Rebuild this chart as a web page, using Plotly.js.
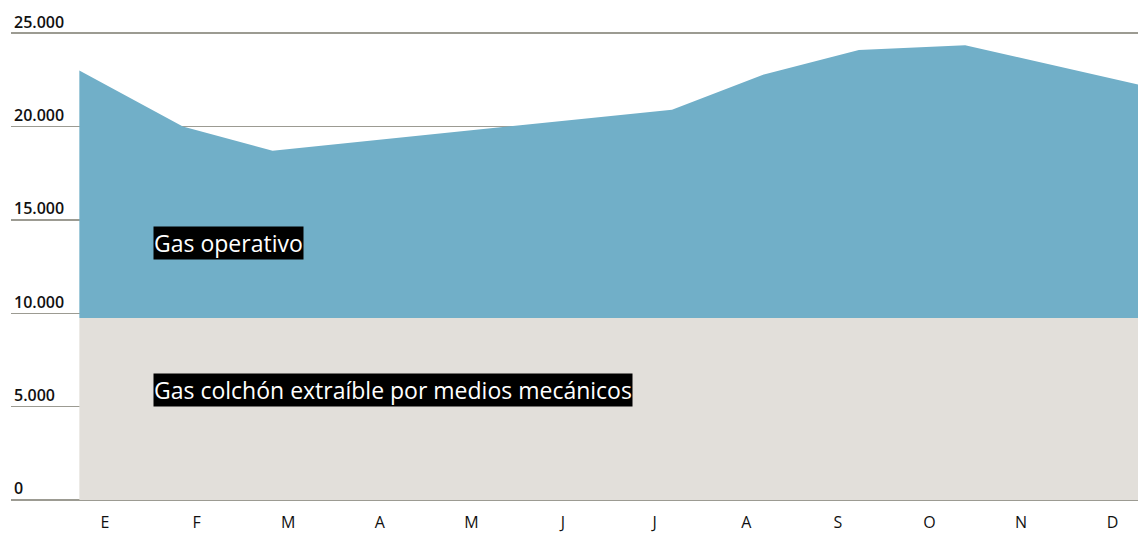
<!DOCTYPE html>
<html>
<head>
<meta charset="utf-8">
<script src="https://cdn.plot.ly/plotly-3.0.1.min.js"></script>
<style>
  html, body { margin: 0; padding: 0; background: #ffffff; }
  #chart { width: 1138px; height: 533px; }
</style>
</head>
<body>
<div id="chart"></div>
<script>
// Month tick labels (index positions 0..11)
const monthLabels = ['E', 'F', 'M', 'A', 'M', 'J', 'J', 'A', 'S', 'O', 'N', 'D'];
const monthTicks = [0, 1, 2, 3, 4, 5, 6, 7, 8, 9, 10, 11];

// Y-axis tick values
const yTicks = [0, 5000, 10000, 15000, 20000, 25000];

// Vertex positions along the year (in month-label units)
const xPoints = [-0.28, 0.85, 1.83, 6.19, 7.17, 8.23, 9.39, 11.28];

// Gas colchón extraíble por medios mecánicos (constant base)
const gasColchon = [9750, 9750, 9750, 9750, 9750, 9750, 9750, 9750];

// Gas operativo (stacked on top of the colchón)
const gasOperativo = [13250, 10250, 8950, 11150, 13000, 14350, 14600, 12500];

const traces = [
  {
    x: xPoints, y: gasColchon, type: 'scatter', mode: 'none',
    stackgroup: 'g', fillcolor: '#e2dfda', line: { width: 0 },
    hoverinfo: 'skip', name: 'Gas colchón extraíble por medios mecánicos'
  },
  {
    x: xPoints, y: gasOperativo, type: 'scatter', mode: 'none',
    stackgroup: 'g', fillcolor: '#71afc8', line: { width: 0 },
    hoverinfo: 'skip', name: 'Gas operativo'
  }
];

const labelFont = { family: 'Open Sans, sans-serif', size: 23, color: '#ffffff' };

const layout = {
  width: 1138, height: 533,
  margin: { l: 11, r: 0, t: 32, b: 33, pad: 0 },
  paper_bgcolor: '#ffffff', plot_bgcolor: '#ffffff',
  separators: ',.',
  showlegend: false,
  xaxis: {
    range: [-1.026, 11.277],
    tickvals: monthTicks, ticktext: monthLabels,
    ticks: '', showgrid: false, zeroline: false,
    showline: false,
    ticklabelstandoff: 11,
    tickfont: { family: 'Open Sans, sans-serif', size: 16, color: '#111111', weight: 500 },
    fixedrange: true
  },
  yaxis: {
    range: [0, 25060],
    tickvals: yTicks,
    tickformat: ',d',
    ticklabelposition: 'inside top',
    ticklabeloverflow: 'allow',
    ticks: '',
    showgrid: true, gridcolor: '#9c9b92', gridwidth: 1.5,
    zeroline: true, zerolinecolor: '#9c9b92', zerolinewidth: 1.5,
    tickfont: { family: 'Open Sans, sans-serif', size: 16, color: '#111111', weight: 600 },
    fixedrange: true
  },
  annotations: [
    {
      x: 0.524, y: 13780, xref: 'x', yref: 'y', xanchor: 'left', yanchor: 'middle',
      text: 'Gas operativo', showarrow: false, font: labelFont,
      bgcolor: '#000000', borderpad: 0
    },
    {
      x: 0.524, y: 5885, xref: 'x', yref: 'y', xanchor: 'left', yanchor: 'middle',
      text: 'Gas colchón extraíble por medios mecánicos', showarrow: false, font: labelFont,
      bgcolor: '#000000', borderpad: 0
    }
  ]
};

Plotly.newPlot('chart', traces, layout, { displayModeBar: false, staticPlot: true });
</script>
</body>
</html>
